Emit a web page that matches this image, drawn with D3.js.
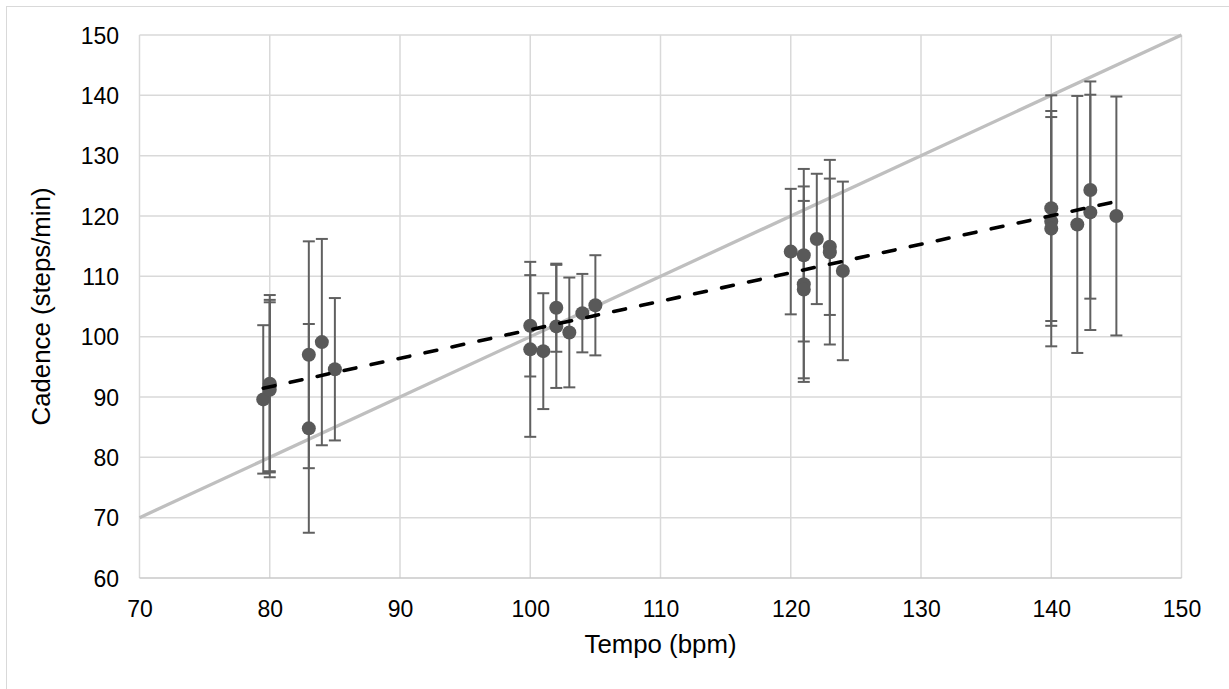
<!DOCTYPE html>
<html>
<head>
<meta charset="utf-8">
<script src="https://cdn.jsdelivr.net/npm/d3@7"></script>
<style>
  html, body { margin: 0; padding: 0; background: #fff; }
  svg { display: block; }
  text { font-family: "Liberation Sans", Arial, sans-serif; }
</style>
</head>
<body>
<svg id="chart" width="1229" height="689"></svg>
<script>
// ---- data ----
const tempo   = [79.5, 80, 80, 80, 83, 83, 84, 85,
                 100, 100, 101, 102, 102, 103, 104, 105,
                 120, 121, 121, 121, 122, 123, 123, 124,
                 140, 140, 140, 142, 143, 143, 145];
const cadence = [89.6, 92.2, 91.9, 91.2, 97.0, 84.8, 99.1, 94.6,
                 101.8, 97.9, 97.6, 104.8, 101.7, 100.7, 103.9, 105.2,
                 114.1, 113.5, 108.7, 107.8, 116.2, 114.9, 114.0, 110.9,
                 121.3, 119.1, 117.9, 118.6, 124.3, 120.6, 120.0];
const errorSD = [12.3, 14.7, 14.2, 14.5, 18.8, 17.3, 17.1, 11.8,
                 8.4, 14.5, 9.6, 7.3, 10.2, 9.1, 6.5, 8.3,
                 10.4, 14.3, 16.2, 14.7, 10.8, 11.3, 15.3, 14.8,
                 18.7, 17.3, 19.5, 21.3, 18.0, 19.5, 19.8];
const identityLine = [70, 150];
const xTicks = [70, 80, 90, 100, 110, 120, 130, 140, 150];
const yTicks = [60, 70, 80, 90, 100, 110, 120, 130, 140, 150];
const xTitle = "Tempo (bpm)";
const yTitle = "Cadence (steps/min)";

// ---- layout ----
(function () {
const svg = d3.select("#chart");
const pL = 139.5, pR = 1181.5, pT = 35, pB = 578;
const x = d3.scaleLinear().domain([70, 150]).range([pL, pR]);
const y = d3.scaleLinear().domain([60, 150]).range([pB, pT]);

svg.append("rect").attr("width", 1229).attr("height", 689).attr("fill", "#fff");
svg.append("rect").attr("x", 6.5).attr("y", 6.5).attr("width", 1240).attr("height", 700)
  .attr("fill", "none").attr("stroke", "#d9d9d9").attr("stroke-width", 1);

// gridlines
svg.append("g").selectAll("line").data(xTicks).join("line")
  .attr("x1", d => x(d)).attr("x2", d => x(d)).attr("y1", pT).attr("y2", pB)
  .attr("stroke", "#d9d9d9").attr("stroke-width", 1.5);
svg.append("g").selectAll("line").data(yTicks).join("line")
  .attr("x1", pL).attr("x2", pR).attr("y1", d => y(d)).attr("y2", d => y(d))
  .attr("stroke", d => d === 60 ? "#c8c8c8" : "#d9d9d9").attr("stroke-width", 1.5);

// tick labels via axes
const xAxis = svg.append("g").attr("transform", `translate(0,${pB})`)
  .call(d3.axisBottom(x).tickValues(xTicks).tickSize(0).tickPadding(0).tickFormat(d3.format("d")));
xAxis.select(".domain").remove();
xAxis.selectAll("text").attr("font-size", 23).attr("fill", "#000")
  .attr("y", 38.5).attr("dy", null).style("font-family", '"Liberation Sans", Arial, sans-serif');

const yAxis = svg.append("g").attr("transform", `translate(${pL},0)`)
  .call(d3.axisLeft(y).tickValues(yTicks).tickSize(0).tickPadding(0).tickFormat(d3.format("d")));
yAxis.select(".domain").remove();
yAxis.selectAll("text").attr("font-size", 23).attr("fill", "#000")
  .attr("x", -20.5).attr("dy", "0.36em").style("font-family", '"Liberation Sans", Arial, sans-serif');

// titles
svg.append("text").attr("x", (pL + pR) / 2).attr("y", 653)
  .attr("text-anchor", "middle").attr("font-size", 25.8).attr("fill", "#000").text(xTitle);
svg.append("text").attr("transform", `translate(50,${(pT + pB) / 2}) rotate(-90)`)
  .attr("text-anchor", "middle").attr("font-size", 25.8).attr("fill", "#000").text(yTitle);

// identity line
svg.append("line")
  .attr("x1", x(identityLine[0])).attr("y1", y(identityLine[0]))
  .attr("x2", x(identityLine[1])).attr("y2", y(identityLine[1]))
  .attr("stroke", "#bfbfbf").attr("stroke-width", 3.3);

const pts = tempo.map((t, i) => ({t, c: cadence[i], e: errorSD[i]}));

// error bars
const eb = svg.append("g").attr("stroke", "#606060").attr("stroke-width", 2).attr("fill", "none");
pts.forEach(p => {
  const cx = x(p.t);
  eb.append("line").attr("x1", cx).attr("x2", cx).attr("y1", y(p.c + p.e)).attr("y2", y(p.c - p.e));
  eb.append("line").attr("x1", cx - 6).attr("x2", cx + 6).attr("y1", y(p.c + p.e)).attr("y2", y(p.c + p.e));
  eb.append("line").attr("x1", cx - 6).attr("x2", cx + 6).attr("y1", y(p.c - p.e)).attr("y2", y(p.c - p.e));
});

// points
svg.append("g").selectAll("circle").data(pts).join("circle")
  .attr("cx", d => x(d.t)).attr("cy", d => y(d.c)).attr("r", 7).attr("fill", "#595959");

// linear trendline (least squares)
const mx = d3.mean(tempo), my = d3.mean(cadence);
const slope = d3.sum(tempo, (t, i) => (t - mx) * (cadence[i] - my)) / d3.sum(tempo, t => (t - mx) ** 2);
const icpt = my - slope * mx;
const [x0, x1] = d3.extent(tempo);
svg.append("line")
  .attr("x1", x(x0)).attr("y1", y(icpt + slope * x0))
  .attr("x2", x(x1)).attr("y2", y(icpt + slope * x1))
  .attr("stroke", "#000").attr("stroke-width", 3.6).attr("stroke-linecap", "round")
  .attr("stroke-dasharray", "12 15.6");
})();
</script>
</body>
</html>
